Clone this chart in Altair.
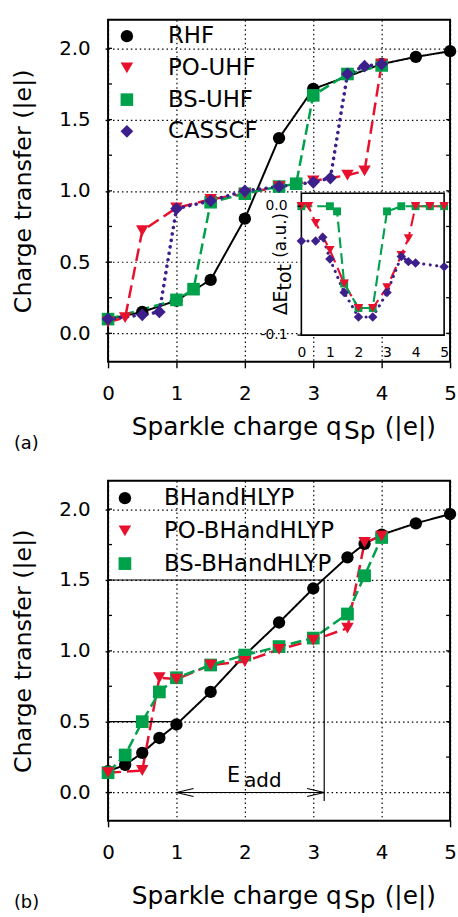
import altair as alt
import pandas as pd

FONT = "DejaVu Sans"
BLACK, RED, GREEN, PURPLE = "#000000", "#e8112d", "#00a14b", "#3d1f8c"

# ---------------- panel (a): charge transfer vs sparkle charge ----------------
names_a = ["RHF", "PO-UHF", "BS-UHF", "CASSCF"]
rhf_q = [0, 0.5, 1, 1.5, 2, 2.5, 3, 4, 4.5, 5]
rhf_ct = [0.10, 0.15, 0.23, 0.375, 0.805, 1.37, 1.715, 1.89, 1.94, 1.98]
pouhf_q = [0, 0.25, 0.5, 1, 1.5, 2, 2.5, 3, 3.5, 3.75, 4]
pouhf_ct = [0.08, 0.11, 0.72, 0.88, 0.94, 0.98, 1.03, 1.07, 1.11, 1.14, 1.89]
bsuhf_q = [0, 1, 1.25, 1.5, 2, 2.5, 2.75, 3, 3.5, 4]
bsuhf_ct = [0.10, 0.235, 0.31, 0.92, 0.98, 1.03, 1.05, 1.67, 1.82, 1.88]
cas_q = [0, 0.5, 0.75, 1, 1.5, 2, 2.5, 3, 3.25, 3.5, 3.75, 4]
cas_ct = [0.10, 0.13, 0.15, 0.875, 0.93, 1.00, 1.03, 1.06, 1.09, 1.82, 1.875, 1.89]

# inset of panel (a): Delta E_tot (a.u.)
in_po_q = [0, 0.25, 0.5, 1, 1.5, 2, 2.5, 3, 3.5, 3.75, 4, 4.5, 5]
in_po_de = [0, 0, -0.013, -0.034, -0.060, -0.079, -0.079, -0.063, -0.038, -0.025, 0, 0, 0]
in_bs_q = [0, 1, 1.25, 1.5, 2, 2.5, 3, 3.5, 4, 4.5, 5]
in_bs_de = [0, 0, -0.004, -0.060, -0.079, -0.079, -0.004, 0, 0, 0, 0]
in_cas_q = [0, 0.5, 0.75, 1, 1.5, 2, 2.5, 3, 3.5, 3.75, 4, 5]
in_cas_de = [-0.027, -0.027, -0.024, -0.041, -0.067, -0.086, -0.086, -0.067, -0.039, -0.043, -0.044, -0.047]

# ---------------- panel (b) ----------------
names_b = ["BHandHLYP", "PO-BHandHLYP", "BS-BHandHLYP"]
bh_q = [0, 0.25, 0.5, 0.75, 1, 1.5, 2, 2.5, 3, 3.5, 3.75, 4, 4.5, 5]
bh_ct = [0.15, 0.195, 0.28, 0.385, 0.48, 0.71, 0.97, 1.20, 1.44, 1.66, 1.755, 1.82, 1.90, 1.965]
pobh_q = [0, 0.5, 0.75, 1, 1.5, 2, 2.5, 3, 3.5, 3.75, 4]
pobh_ct = [0.14, 0.155, 0.81, 0.80, 0.90, 0.925, 1.01, 1.075, 1.16, 1.765, 1.81]
bsbh_q = [0, 0.25, 0.5, 0.75, 1, 1.5, 2, 2.5, 3, 3.5, 3.75, 4]
bsbh_ct = [0.14, 0.265, 0.50, 0.71, 0.81, 0.90, 0.97, 1.03, 1.09, 1.26, 1.53, 1.80]

# E_add annotation (panel b)
eadd_q = [1.0, 3.16]
eadd_levels = [0.5, 1.5]

x_ticks = [0, 1, 2, 3, 4, 5]
y_ticks = [0, 0.5, 1.0, 1.5, 2.0]
minor_ticks = [0, 0.25, 0.5, 0.75, 1.0, 1.25, 1.5, 1.75, 2.0]
inset_y_ticks = [-0.1, 0.0]

STYLE = {
    "RHF": dict(color=BLACK, shape="circle", dash=[1, 0], width=2.0, cap="butt", size=155),
    "PO-UHF": dict(color=RED, shape="triangle-down", dash=[13, 6], width=2.5, cap="butt", size=165),
    "BS-UHF": dict(color=GREEN, shape="square", dash=[11, 5], width=2.5, cap="butt", size=115),
    "CASSCF": dict(color=PURPLE, shape="diamond", dash=[0.1, 6.5], width=3.6, cap="round", size=165),
}
STYLE["BHandHLYP"] = STYLE["RHF"]
STYLE["PO-BHandHLYP"] = STYLE["PO-UHF"]
STYLE["BS-BHandHLYP"] = STYLE["BS-UHF"]


def make_df(names, qs_list, vs_list):
    rows = []
    for n, qs, vs in zip(names, qs_list, vs_list):
        for q, v in zip(qs, vs):
            rows.append({"series": n, "q": q, "v": v})
    return pd.DataFrame(rows)


def one(**kw):
    return pd.DataFrame([kw])


def line_layers(df, names, X, Y, wscale=1.0):
    out = []
    for n in names:
        st = STYLE[n]
        out.append(
            alt.Chart(df).transform_filter(alt.datum.series == n)
            .mark_line(color=st["color"], strokeDash=st["dash"],
                       strokeWidth=st["width"] * wscale, strokeCap=st["cap"])
            .encode(x=X("q"), y=Y("v"))
        )
    return out


def point_layer(df, names, X, Y, leg):
    cscale = alt.Scale(domain=names, range=[STYLE[n]["color"] for n in names])
    sscale = alt.Scale(domain=names, range=[STYLE[n]["shape"] for n in names])
    zscale = alt.Scale(domain=names, range=[STYLE[n]["size"] for n in names])
    return alt.Chart(df).mark_point(filled=True, opacity=1, strokeWidth=0).encode(
        x=X("q"), y=Y("v"),
        color=alt.Color("series:N", scale=cscale, legend=leg),
        shape=alt.Shape("series:N", scale=sscale, legend=leg),
        size=alt.Size("series:N", scale=zscale, legend=None),
    )


def text_at(txt, x, y, size, angle=0, align="left", baseline="alphabetic"):
    return alt.Chart(one(t=txt)).mark_text(
        font=FONT, fontSize=size, align=align, baseline=baseline, angle=angle, color="black"
    ).encode(x=alt.value(x), y=alt.value(y), text="t:N")


def minor_tick_layers(Y, width):
    d = pd.DataFrame({"t": minor_ticks})
    left = alt.Chart(d).mark_rule(color="black", strokeWidth=1.3).encode(
        x=alt.value(0), x2=alt.value(4), y=Y("t"))
    right = alt.Chart(d).mark_rule(color="black", strokeWidth=1.3).encode(
        x=alt.value(width - 4), x2=alt.value(width), y=Y("t"))
    return [left, right]


def anchor(y0, y1):
    return alt.Chart(one(a=0)).mark_rect(opacity=0).encode(
        x=alt.value(-108), x2=alt.value(350), y=alt.value(y0), y2=alt.value(y1))


def x_title(y):
    return [
        text_at("Sparkle charge q", 24, y, 25),
        text_at("Sp", 238, y + 4, 25),
        text_at("(|e|)", 279, y, 25),
    ]


W = 345
HA, HB = 345, 343
xs = alt.Scale(domain=[0, 5], nice=False, zero=False)
ys = alt.Scale(domain=[-0.2, 2.2], nice=False, zero=False)


def legend(lx, ly, off, rp):
    return alt.Legend(orient="none", legendX=lx, legendY=ly, title=None,
                      labelFontSize=23, labelFont=FONT, labelColor="black", labelLimit=400,
                      symbolSize=170, symbolStrokeWidth=0, symbolOpacity=1,
                      rowPadding=rp, labelOffset=off, padding=0)


def y_axis(ty):
    return alt.Axis(values=y_ticks, format=".1f", grid=True, tickSize=3, labelPadding=15,
                    domain=False, labelFontSize=20, title="Charge transfer (|e|)",
                    titleX=-85, titleY=ty, titleAngle=270, titleBaseline="middle",
                    titleAlign="center", titleFontSize=24, titleFontWeight="normal")


def makers(xscale, xaxis, yscale, yaxis):
    def X(f):
        return alt.X(f + ":Q", scale=xscale, axis=xaxis)

    def Y(f):
        return alt.Y(f + ":Q", scale=yscale, axis=yaxis)
    return X, Y


# ---------- panel (a) ----------
df_a_lines = make_df(names_a, [rhf_q, pouhf_q, bsuhf_q, cas_q], [rhf_ct, pouhf_ct, bsuhf_ct, cas_ct])
draw_a = ["RHF", "BS-UHF", "PO-UHF", "CASSCF"]
qa = {"RHF": (rhf_q, rhf_ct), "PO-UHF": (pouhf_q, pouhf_ct), "BS-UHF": (bsuhf_q, bsuhf_ct), "CASSCF": (cas_q, cas_ct)}
df_a_pts = make_df(draw_a, [qa[n][0] for n in draw_a], [qa[n][1] for n in draw_a])

xaxis_a = alt.Axis(values=x_ticks, format="d", grid=True, tickSize=6, labelPadding=16,
                   domain=False, labelFontSize=20, title=None, labelFlush=False)
XA, YA = makers(xs, xaxis_a, ys, y_axis(HA / 2))

main_a = alt.layer(
    *line_layers(df_a_lines, names_a, XA, YA),
    point_layer(df_a_pts, names_a, XA, YA, legend(7.5, 5, 30, 8)),
    *minor_tick_layers(YA, W),
)

names_in = ["PO-UHF", "BS-UHF", "CASSCF"]
df_in = make_df(names_in, [in_po_q, in_bs_q, in_cas_q], [in_po_de, in_bs_de, in_cas_de])
xs_in = alt.Scale(domain=[0, 5], range=[195, 339], nice=False, zero=False)
ys_in = alt.Scale(domain=[-0.1, 0.01], range=[318, 175], nice=False, zero=False)
xaxis_in = alt.Axis(values=x_ticks, format="d", orient="bottom", offset=-27, grid=False,
                    domain=False, ticks=False, labelPadding=11, labelFontSize=14, title=None,
                    zindex=1, labelFlush=False)
XI, YI = makers(xs_in, xaxis_in, ys_in, None)

inset_frame = alt.Chart(one(x0=0, x1=5, y0=-0.1, y1=0.01)).mark_rect(
    fill="white", stroke="black", strokeWidth=1.6).encode(
    x=XI("x0"), x2="x1:Q", y=YI("y0"), y2="y1:Q")

inset_pts = []
for n in ["BS-UHF", "PO-UHF", "CASSCF"]:
    st = STYLE[n]
    inset_pts.append(
        alt.Chart(df_in).transform_filter(alt.datum.series == n)
        .mark_point(filled=True, opacity=1, strokeWidth=0, color=st["color"], shape=st["shape"],
                    size=st["size"] * 0.55)
        .encode(x=XI("q"), y=YI("v"))
    )

df_in_ticks = pd.DataFrame({"t": inset_y_ticks, "lab": [f"{v:.1f}" for v in inset_y_ticks]})
inset_ylabels = alt.Chart(df_in_ticks).mark_text(
    font=FONT, fontSize=14, align="right", baseline="middle", color="black").encode(
    x=alt.value(181), y=YI("t"), text="lab:N")
inset_yticks = alt.Chart(df_in_ticks).mark_rule(color="black", strokeWidth=1.3).encode(
    x=alt.value(191), x2=alt.value(195), y=YI("t"))

inset = alt.layer(
    inset_frame,
    *line_layers(df_in, names_in, XI, YI, wscale=0.85),
    *inset_pts,
    inset_ylabels, inset_yticks,
)

panel_a = alt.layer(
    anchor(-15, HA),
    main_a,
    inset,
    text_at("\u0394E", 175, 298, 19, angle=270, baseline="middle"),
    text_at("tot", 179, 273, 19, angle=270, baseline="middle"),
    text_at("(a.u.)", 175, 240, 17, angle=270, baseline="middle"),
    *x_title(419),
    text_at("(a)", -95, 428, 18, baseline="middle"),
).resolve_scale(x="independent", y="independent").properties(width=W, height=HA)

# ---------- panel (b) ----------
df_b_lines = make_df(names_b, [bh_q, pobh_q, bsbh_q], [bh_ct, pobh_ct, bsbh_ct])
draw_b = ["BHandHLYP", "BS-BHandHLYP", "PO-BHandHLYP"]
qb = {"BHandHLYP": (bh_q, bh_ct), "PO-BHandHLYP": (pobh_q, pobh_ct), "BS-BHandHLYP": (bsbh_q, bsbh_ct)}
df_b_pts = make_df(draw_b, [qb[n][0] for n in draw_b], [qb[n][1] for n in draw_b])

xaxis_b = alt.Axis(values=x_ticks, format="d", grid=True, tickSize=6, labelPadding=16,
                   domain=False, labelFontSize=20, title=None, labelFlush=False,
                   tickOpacity={"condition": {"test": "datum.value == 0 || datum.value == 5", "value": 1},
                                "value": 0})
XB, YB = makers(xs, xaxis_b, ys, y_axis(HB / 2))

ann_rules = pd.DataFrame({
    "x0": [0, 0, eadd_q[1], eadd_q[0]],
    "x1": [eadd_q[0], eadd_q[1], eadd_q[1], eadd_q[1]],
    "y0": [eadd_levels[0], eadd_levels[1], eadd_levels[1], 0.0],
    "y1": [eadd_levels[0], eadd_levels[1], -0.06, 0.0],
})
rules_b = alt.Chart(ann_rules).mark_rule(color="black", strokeWidth=1.2).encode(
    x=XB("x0"), x2="x1:Q", y=YB("y0"), y2="y1:Q")

heads = pd.DataFrame({
    "g": [0, 0, 0, 1, 1, 1],
    "o": [0, 1, 2, 0, 1, 2],
    "hx": [eadd_q[0] + 0.25, eadd_q[0], eadd_q[0] + 0.25, eadd_q[1] - 0.25, eadd_q[1], eadd_q[1] - 0.25],
    "hy": [0.028, 0.0, -0.028, 0.028, 0.0, -0.028],
})
heads_b = alt.Chart(heads).mark_line(color="black", strokeWidth=1.2).encode(
    x=XB("hx"), y=YB("hy"), detail="g:N", order="o:Q")

eadd_txt = pd.DataFrame({"x": [1.74, 1.99], "y": [0.077, 0.077], "t": ["E", "add"]})
e_text = alt.Chart(eadd_txt).transform_filter(alt.datum.t == "E").mark_text(
    font=FONT, fontSize=21, align="left", baseline="alphabetic", color="black").encode(
    x=XB("x"), y=YB("y"), text="t:N")
sub_text = alt.Chart(eadd_txt).transform_filter(alt.datum.t == "add").mark_text(
    font=FONT, fontSize=20, align="left", baseline="alphabetic", dy=5, color="black").encode(
    x=XB("x"), y=YB("y"), text="t:N")

panel_b = alt.layer(
    anchor(0, 437),
    *line_layers(df_b_lines, names_b, XB, YB),
    rules_b, heads_b,
    point_layer(df_b_pts, names_b, XB, YB, legend(5.5, 6, 28, 9)),
    *minor_tick_layers(YB, W),
    e_text, sub_text,
    *x_title(427),
    text_at("(b)", -95, 426, 18, baseline="middle"),
).properties(width=W, height=HB)

chart = alt.vconcat(panel_a, panel_b, spacing=120, bounds="flush").resolve_scale(
    x="independent", y="independent", color="independent", shape="independent", size="independent"
).properties(padding=0).configure_view(
    stroke="black", strokeWidth=2
).configure_axis(
    labelFont=FONT, titleFont=FONT, labelColor="black", titleColor="black", tickColor="black",
    tickWidth=1.4, gridColor="black", gridDash=[1.5, 3], gridWidth=1.2, gridOpacity=1
).configure_text(font=FONT)

chart.save("out.html", embed_options={"renderer": "svg", "actions": False})
